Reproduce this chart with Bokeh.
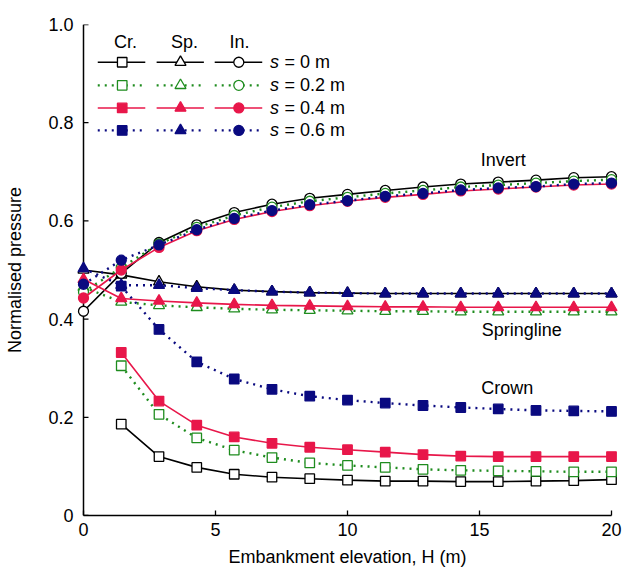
from bokeh.plotting import figure
from bokeh.models import Range1d, Label, FixedTicker
from bokeh.core.properties import value
from bokeh.embed import file_html
from bokeh.resources import INLINE

# ---------------- data ----------------
H = [0, 1.43, 2.86, 4.29, 5.71, 7.14, 8.57, 10, 11.43, 12.86, 14.29, 15.71, 17.14, 18.57, 20]
H_crown = H[1:]

crown_s0 = [0.186, 0.120, 0.098, 0.084, 0.078, 0.075, 0.072, 0.070, 0.070, 0.069, 0.069, 0.070, 0.071, 0.073]
crown_s02 = [0.305, 0.206, 0.158, 0.133, 0.118, 0.107, 0.102, 0.098, 0.094, 0.092, 0.091, 0.090, 0.089, 0.089]
crown_s04 = [0.332, 0.233, 0.184, 0.160, 0.147, 0.139, 0.134, 0.129, 0.124, 0.121, 0.120, 0.120, 0.120, 0.120]
crown_s06 = [0.467, 0.379, 0.313, 0.278, 0.257, 0.243, 0.235, 0.229, 0.224, 0.220, 0.217, 0.214, 0.213, 0.212]

spring_s0 = [0.500, 0.490, 0.476, 0.466, 0.459, 0.456, 0.454, 0.453, 0.452, 0.452, 0.452, 0.452, 0.452, 0.452, 0.452]
spring_s02 = [0.465, 0.435, 0.428, 0.424, 0.421, 0.419, 0.418, 0.417, 0.416, 0.416, 0.415, 0.415, 0.415, 0.415, 0.415]
spring_s04 = [0.481, 0.442, 0.437, 0.433, 0.430, 0.428, 0.427, 0.426, 0.425, 0.425, 0.424, 0.424, 0.424, 0.424, 0.424]
spring_s06 = [0.503, 0.469, 0.469, 0.463, 0.459, 0.456, 0.454, 0.453, 0.452, 0.452, 0.452, 0.452, 0.452, 0.452, 0.452]

invert_s0 = [0.416, 0.493, 0.556, 0.592, 0.617, 0.634, 0.646, 0.654, 0.662, 0.669, 0.675, 0.679, 0.683, 0.688, 0.690]
invert_s02 = [0.455, 0.505, 0.553, 0.587, 0.611, 0.628, 0.640, 0.648, 0.656, 0.662, 0.669, 0.673, 0.677, 0.681, 0.684]
invert_s04 = [0.443, 0.500, 0.546, 0.580, 0.603, 0.619, 0.631, 0.640, 0.648, 0.654, 0.661, 0.665, 0.669, 0.673, 0.675]
invert_s06 = [0.471, 0.520, 0.551, 0.582, 0.605, 0.621, 0.633, 0.641, 0.650, 0.656, 0.663, 0.667, 0.670, 0.675, 0.677]

s_labels = ["= 0 m", "= 0.2 m", "= 0.4 m", "= 0.6 m"]
col_headers = ["Cr.", "Sp.", "In."]
x_ticks = [0, 5, 10, 15, 20]
y_ticks = [0, 0.2, 0.4, 0.6, 0.8, 1.0]
y_tick_labels = ["0", "0.2", "0.4", "0.6", "0.8", "1.0"]

# ---------------- styles ----------------
FONT = "Liberation Sans"
BLACK, GREEN, RED, NAVY = "#000000", "#1E8C1E", "#E8174A", "#0A0A80"
styles = [
    dict(color=BLACK, dash="solid", fill="white"),
    dict(color=GREEN, dash="2 5", fill="white"),
    dict(color=RED, dash="solid", fill=RED),
    dict(color=NAVY, dash="2 5", fill=NAVY),
]
markers = [("square", 9.5), ("triangle", 11), ("circle", 10)]

series = [
    (crown_s0, spring_s0, invert_s0),
    (crown_s02, spring_s02, invert_s02),
    (crown_s04, spring_s04, invert_s04),
    (crown_s06, spring_s06, invert_s06),
]

p = figure(width=622, height=575, output_backend="svg", toolbar_location=None,
           x_range=Range1d(-0.341, 20.341), y_range=Range1d(0, 1.0),
           min_border_left=74, min_border_right=2, min_border_top=24, min_border_bottom=60)
p.outline_line_color = None
p.xgrid.visible = False
p.ygrid.visible = False
p.background_fill_color = "white"
p.border_fill_color = "white"


def style_axis(ax):
    ax.axis_line_width = 1.5
    ax.axis_line_color = "black"
    ax.major_tick_line_width = 1.3
    ax.major_tick_in = 5
    ax.major_tick_out = 0
    ax.minor_tick_line_color = None
    ax.major_label_text_font = FONT
    ax.major_label_text_font_size = "18px"
    ax.major_label_text_color = "black"
    ax.axis_label_text_font = FONT
    ax.axis_label_text_font_size = "18px"
    ax.axis_label_text_font_style = "normal"
    ax.axis_label_text_color = "black"


style_axis(p.xaxis[0])
style_axis(p.yaxis[0])

p.xaxis.ticker = FixedTicker(ticks=x_ticks)
p.xaxis.bounds = (0, 20)
p.xaxis.major_label_standoff = 7
p.xaxis.axis_label = "Embankment elevation, H (m)"
p.xaxis.axis_label_standoff = 8

# y axis in the left panel carries the labels; its line/ticks are drawn at H = 0 below
ya = p.yaxis[0]
ya.ticker = FixedTicker(ticks=y_ticks)
ya.major_label_overrides = dict(zip(y_ticks, y_tick_labels))
ya.axis_line_color = None
ya.major_tick_line_color = None
ya.major_tick_in = 0
ya.major_label_standoff = 1
ya.axis_label = "Normalised pressure"
ya.axis_label_standoff = 20

# axis line and inward ticks exactly at H = 0 (5 px long)
tick_len = 5 / 26.4
p.segment(x0=[0], y0=[y_ticks[0]], x1=[0], y1=[y_ticks[-1]], line_color="black", line_width=1.5)
p.segment(x0=[0] * len(y_ticks), y0=y_ticks, x1=[tick_len] * len(y_ticks), y1=y_ticks,
          line_color="black", line_width=1.3)

# ---------------- series ----------------
for st, (cr, sp, inv) in zip(styles, series):
    for (mk, sz), xs, ys in zip(markers, (H_crown, H, H), (cr, sp, inv)):
        p.line(xs, ys, line_color=st["color"], line_width=1.6 if st["dash"] == "solid" else 2.4,
               line_dash=st["dash"])
        p.scatter(xs, ys, marker=mk, size=sz, fill_color=st["fill"], line_color=st["color"],
                  line_width=1.3)

# ---------------- legend (custom table) ----------------
col_x0 = [0.54, 2.77, 4.97]
col_x1 = [2.34, 4.56, 6.77]
col_mid = [1.466, 3.674, 5.883]
head_x = [1.59, 3.83, 5.91]
row_y = [0.9231, 0.8761, 0.8300, 0.7843]
head_y = 0.964
text_x = 7.06

p.text(head_x, [head_y] * 3, text=col_headers, text_font=value(FONT), text_font_size="18px",
       text_align="center", text_baseline="middle", text_color="black")
for st, yy, lab in zip(styles, row_y, s_labels):
    for c in range(3):
        p.line([col_x0[c], col_x1[c]], [yy, yy], line_color=st["color"],
               line_width=1.6 if st["dash"] == "solid" else 2.4, line_dash=st["dash"])
        p.scatter([col_mid[c]], [yy], marker=markers[c][0], size=markers[c][1],
                  fill_color=st["fill"], line_color=st["color"], line_width=1.3)
    p.text([text_x], [yy], text=["s"], text_font=value(FONT), text_font_size="18px",
           text_font_style="italic", text_baseline="middle", text_color="black")
    p.text([text_x], [yy], text=[lab], x_offset=14.5, text_font=value(FONT), text_font_size="18px",
           text_baseline="middle", text_color="black")

# ---------------- annotations ----------------
for txt, xx, yy in [("Invert", 15.9, 0.724), ("Springline", 16.6, 0.378), ("Crown", 16.05, 0.259)]:
    p.add_layout(Label(x=xx, y=yy, text=txt, text_font=FONT, text_font_size="18px",
                       text_align="center", text_baseline="middle", text_color="black"))

open("out.html", "w").write(file_html(p, INLINE))
